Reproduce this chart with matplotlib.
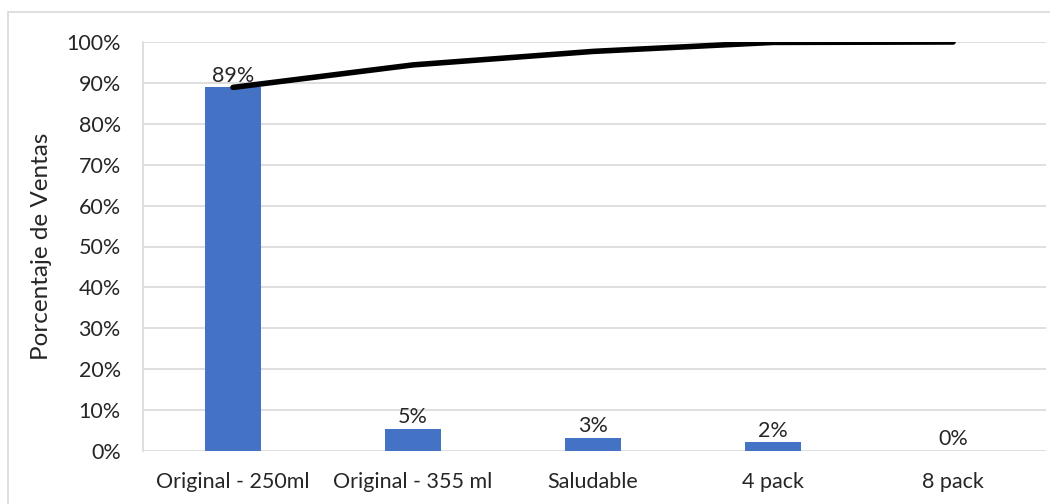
import matplotlib.pyplot as plt
from matplotlib.patches import Rectangle
from matplotlib.ticker import PercentFormatter

plt.rcParams['font.family'] = ['Lato', 'DejaVu Sans']

productos = ['Original - 250ml', 'Original - 355 ml', 'Saludable', '4 pack', '8 pack']
ventas = [88.9, 5.5, 3.3, 2.2, 0.1]
etiquetas = ['89%', '5%', '3%', '2%', '0%']

acumulado = []
total = 0
for v in ventas:
    total += v
    acumulado.append(total)

fig = plt.figure(figsize=(10.5, 5.04), dpi=100)
ax = fig.add_axes([143 / 1050, (504 - 451) / 504, 903 / 1050, 409 / 504])

# borde del área del gráfico
fig.patches.append(Rectangle((8 / 1050, -0.1), 1.2, (504 - 12) / 504 + 0.1,
                             transform=fig.transFigure, fill=False,
                             edgecolor='#d9d9d9', linewidth=1.2))

x = range(len(productos))
ax.bar(x, ventas, width=0.31, color='#4472c4', zorder=2)
ax.plot(x, acumulado, color='black', linewidth=4, solid_capstyle='round', zorder=3)

for i, (v, t) in enumerate(zip(ventas, etiquetas)):
    ax.text(i, v + 0.3, t, ha='center', va='bottom', fontsize=15.5, color='#262626', zorder=4)

ax.set_xlim(-0.5, len(productos) - 0.5 + 0.016)
ax.set_ylim(0, 100)
ax.set_yticks(range(0, 101, 10))
ax.yaxis.set_major_formatter(PercentFormatter(decimals=0))
ax.set_xticks(list(x))
ax.set_xticklabels(productos)
ax.tick_params(axis='both', length=0, labelsize=15.5, colors='#262626')
ax.tick_params(axis='x', pad=15)
ax.tick_params(axis='y', pad=16)
ax.grid(axis='y', color='#d9d9d9', linewidth=1.2, zorder=0)

for side in ['top', 'right', 'bottom']:
    ax.spines[side].set_visible(False)
ax.spines['left'].set_color('#d9d9d9')
ax.spines['left'].set_linewidth(1.2)

ax.set_ylabel('Porcentaje de Ventas', fontsize=17.5, color='#262626', labelpad=10)

fig.savefig('out.png', dpi=100)
